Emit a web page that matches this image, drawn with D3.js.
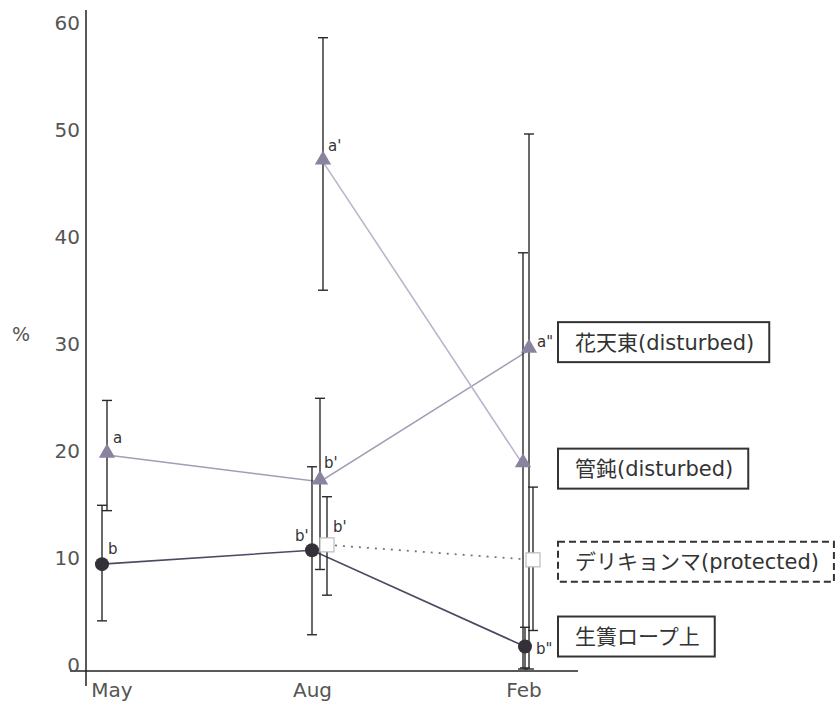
<!DOCTYPE html>
<html>
<head>
<meta charset="utf-8">
<script src="https://cdn.jsdelivr.net/npm/d3@7"></script>
<style>
  body { margin: 0; background: #fff; }
  svg { display: block; }
  text { font-family: "DejaVu Sans", "Noto Sans CJK JP", sans-serif; }
</style>
</head>
<body>
<svg id="chart" width="835" height="706"></svg>
<script>
// months on the x axis
const months = ["May", "Aug", "Feb"];
const yTicks = [0, 10, 20, 30, 40, 50, 60];

// 花天東(disturbed)
const kaValues = [20.0, 17.5, 29.8];
const kaHigh = [25.1, 25.3, 50.0];
const kaLow = [14.8, 9.3, 0];
const kaLetters = ["a", "b'", "a\""];

// 管鈍(disturbed)
const kanValues = [null, 47.4, 19.1];
const kanHigh = [null, 59.0, 38.9];
const kanLow = [null, 35.4, 0];
const kanLetters = [null, "a'", null];

// デリキョンマ(protected)
const deriValues = [null, 11.6, 10.2];
const deriHigh = [null, 16.1, 17.0];
const deriLow = [null, 6.9, 3.6];
const deriLetters = [null, "b'", null];

// 生簀ロープ上
const ikeValues = [9.8, 11.1, 2.1];
const ikeHigh = [15.3, 18.9, 3.9];
const ikeLow = [4.5, 3.2, 0.1];
const ikeLetters = ["b", "b'", "b\""];

// small sideways nudges so the error bars don't sit on top of each other
const series = [
    { name: "花天東(disturbed)", values: kaValues, high: kaHigh, low: kaLow, letters: kaLetters,
      shape: "triangle", line: "#a39db3", dash: null, dx: [3, 4.5, 2], box: "solid", boxDy: -8 },
    { name: "管鈍(disturbed)", values: kanValues, high: kanHigh, low: kanLow, letters: kanLetters,
      shape: "triangle", line: "#bab5c9", dash: null, dx: [0, 7.5, -4], box: "solid", boxDy: 4 },
    { name: "デリキョンマ(protected)", values: deriValues, high: deriHigh, low: deriLow, letters: deriLetters,
      shape: "square", line: "#777", dash: "2,6", dx: [0, 11.5, 6], box: "dashed", boxDy: 2 },
    { name: "生簀ロープ上", values: ikeValues, high: ikeHigh, low: ikeLow, letters: ikeLetters,
      shape: "circle", line: "#4e4862", dash: null, dx: [-2, -3.5, -2], box: "solid", boxDy: -10 }
];

const svg = d3.select("#chart");

const x = d3.scalePoint()
    .domain(months)
    .range([104, 527]);

const y = d3.scaleLinear()
    .domain([0, 60])
    .range([669, 27]);

// axes
svg.append("line")
    .attr("x1", 86).attr("x2", 86)
    .attr("y1", 10).attr("y2", 686)
    .attr("stroke", "#222").attr("stroke-width", 1.5);

svg.append("line")
    .attr("x1", 70).attr("x2", 578)
    .attr("y1", y(0) + 2).attr("y2", y(0) + 2)
    .attr("stroke", "#222").attr("stroke-width", 1.5);

svg.selectAll(".ytick")
    .data(yTicks)
    .enter().append("text")
    .attr("class", "ytick")
    .attr("x", 80)
    .attr("y", d => y(d) - 4)
    .attr("dy", "0.35em")
    .attr("text-anchor", "end")
    .attr("fill", "#555")
    .style("font-size", "20px")
    .text(d => d);

svg.append("text")
    .attr("x", 21).attr("y", y(30) - 14)
    .attr("dy", "0.35em")
    .attr("text-anchor", "middle")
    .attr("fill", "#555")
    .style("font-size", "19px")
    .text("%");

svg.selectAll(".xtick")
    .data(months)
    .enter().append("text")
    .attr("class", "xtick")
    .attr("x", d => x(d) + (d === "May" ? 8 : -3))
    .attr("y", 690)
    .attr("dy", "0.35em")
    .attr("text-anchor", "middle")
    .attr("fill", "#555")
    .style("font-size", "20px")
    .text(d => d);

// connecting lines
series.forEach(s => {
    const pts = months.map((m, i) => ({ m, i, v: s.values[i] }));
    const line = d3.line()
        .defined(d => d.v !== null)
        .x(d => x(d.m) + s.dx[d.i])
        .y(d => y(d.v));
    svg.append("path")
        .datum(pts)
        .attr("d", line)
        .attr("fill", "none")
        .attr("stroke", s.line)
        .attr("stroke-width", s.dash ? 1.8 : 1.6)
        .attr("stroke-dasharray", s.dash);
});

// error bars
series.forEach(s => {
    const bars = months.map((m, i) => ({ m, i, hi: s.high[i], lo: s.low[i] }))
        .filter(d => d.hi !== null);
    const g = svg.append("g").attr("stroke", "#2a2a2a").attr("stroke-width", 1.4);
    bars.forEach(d => {
        const cx = x(d.m) + s.dx[d.i];
        g.append("line")
            .attr("x1", cx).attr("x2", cx)
            .attr("y1", y(d.hi)).attr("y2", y(d.lo));
        g.append("line")
            .attr("x1", cx - 5).attr("x2", cx + 5)
            .attr("y1", y(d.hi)).attr("y2", y(d.hi));
        g.append("line")
            .attr("x1", cx - 5).attr("x2", cx + 5)
            .attr("y1", y(d.lo)).attr("y2", y(d.lo));
    });
});

// markers
const triangle = d3.symbol().type(d3.symbolTriangle).size(115);
series.forEach(s => {
    const pts = months.map((m, i) => ({ m, i, v: s.values[i] })).filter(d => d.v !== null);
    pts.forEach(d => {
        const cx = x(d.m) + s.dx[d.i], cy = y(d.v);
        if (s.shape === "triangle") {
            svg.append("path")
                .attr("d", triangle())
                .attr("transform", `translate(${cx},${cy - 2})`)
                .attr("fill", "#8b829f");
        } else if (s.shape === "circle") {
            svg.append("circle")
                .attr("cx", cx).attr("cy", cy).attr("r", 7)
                .attr("fill", "#333038");
        } else {
            svg.append("rect")
                .attr("x", cx - 7).attr("y", cy - 7)
                .attr("width", 14).attr("height", 14)
                .attr("fill", "#fff")
                .attr("stroke", "#bbb").attr("stroke-width", 1.2);
        }
    });
});

// significance letters
const letterShift = {
    "生簀ロープ上": [[6, -15], [-17, -14], [11, 2]],
    "花天東(disturbed)": [[6, -17], [4, -19], [8, -8]],
    "管鈍(disturbed)": [null, [5, -16], null],
    "デリキョンマ(protected)": [null, [6, -18], null]
};
series.forEach(s => {
    s.letters.forEach((t, i) => {
        if (!t) return;
        const sh = letterShift[s.name][i];
        svg.append("text")
            .attr("x", x(months[i]) + s.dx[i] + sh[0])
            .attr("y", y(s.values[i]) + sh[1])
            .attr("dy", "0.35em")
            .attr("fill", "#333")
            .style("font-size", "15px")
            .text(t);
    });
});

// labels in boxes at the right
series.forEach(s => {
    const cy = y(s.values[2]) + s.boxDy;
    const g = svg.append("g");
    const txt = g.append("text")
        .attr("x", 575)
        .attr("y", cy)
        .attr("dy", "0.36em")
        .attr("fill", "#333")
        .style("font-size", "21px")
        .text(s.name);
    const w = txt.node().getComputedTextLength();
    g.insert("rect", "text")
        .attr("x", 558).attr("y", cy - 20)
        .attr("width", w + 32).attr("height", 40)
        .attr("fill", "#fff")
        .attr("stroke", "#333")
        .attr("stroke-width", 2)
        .attr("stroke-dasharray", s.box === "dashed" ? "7,4" : null);
});
</script>
</body>
</html>
